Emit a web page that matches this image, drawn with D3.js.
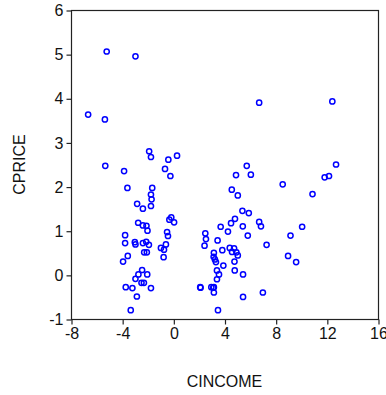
<!DOCTYPE html>
<html>
<head>
<meta charset="utf-8">
<script src="https://cdn.jsdelivr.net/npm/d3@7"></script>
<style>
  body { margin: 0; background: #fff; }
  text { font-family: Arial, "Liberation Sans", sans-serif; }
</style>
</head>
<body>
<div id="plot"></div>
<script>
const width = 386
const height = 395
const margin = {top: 10, right: 8, bottom: 76, left: 71}

// CINCOME values
const cincome = [
  -5.21, -2.96, -6.66, -5.35, -1.89, -1.75, -0.39, 0.29, -5.32, -3.85,
  -0.65, -0.23, -3.59, -1.65, -1.75, -1.70, -1.75, -2.83, -2.38, -2.75,
  -2.38, -2.10, -2.02, -0.31, -0.16, 0.06, -3.77, -3.77, -3.01, -2.96,
  -2.38, -2.12, -1.91, -2.28, -2.07, -0.49, -0.42, -0.58, -0.97, -0.73,
  -0.76, -3.56, -3.93, -2.44, -2.73, -2.04, -2.96, -2.49, -2.30, -3.72,
  -3.20, -1.75, -2.85, -3.33, 2.10, 2.50, 2.55, 2.44, 2.97, 3.17,
  3.17, 3.49, 6.71, 12.43, 12.72, 11.83, 12.17, 8.55, 10.88, 5.74,
  4.90, 6.06, 4.57, 5.04, 5.40, 5.90, 4.82, 4.51, 3.70, 5.43,
  6.71, 6.85, 10.07, 4.27, 3.46, 5.82, 9.16, 7.29, 3.83, 4.41,
  4.75, 4.59, 4.93, 5.04, 3.17, 3.15, 3.25, 3.33, 4.78, 3.91,
  8.97, 9.60, 3.41, 4.80, 3.57, 5.45, 3.41, 2.13, 3.12, 5.45,
  7.00
]

// CPRICE values
const cprice = [
  5.06, 4.95, 3.63, 3.52, 2.80, 2.67, 2.61, 2.70, 2.47, 2.35,
  2.40, 2.24, 1.97, 1.97, 1.82, 1.71, 1.56, 1.61, 1.50, 1.18,
  1.12, 1.11, 1.00, 1.25, 1.30, 1.19, 0.90, 0.72, 0.74, 0.69,
  0.72, 0.75, 0.68, 0.51, 0.51, 0.97, 0.88, 0.69, 0.61, 0.57,
  0.40, 0.43, 0.30, 0.11, 0.01, 0.01, -0.09, -0.18, -0.18, -0.28,
  -0.30, -0.30, -0.49, -0.80, -0.28, 0.94, 0.81, 0.66, -0.28, -0.28,
  -0.40, -0.80, 3.90, 3.93, 2.50, 2.21, 2.24, 2.05, 1.83, 2.47,
  2.26, 2.27, 1.93, 1.80, 1.45, 1.40, 1.27, 1.17, 1.09, 1.10,
  1.20, 1.10, 1.09, 0.98, 0.78, 0.89, 0.89, 0.68, 0.56, 0.61,
  0.60, 0.52, 0.51, 0.44, 0.50, 0.41, 0.35, 0.29, 0.30, 0.21,
  0.43, 0.29, 0.10, 0.10, 0.01, 0.01, -0.10, -0.29, -0.29, -0.50,
  -0.40
]

const xTicks = [-8, -4, 0, 4, 8, 12, 16]
const yTicks = [-1, 0, 1, 2, 3, 4, 5, 6]

const svg = d3.select('div#plot').append('svg')
    .attr('width', width)
    .attr('height', height)

const innerW = width - margin.left - margin.right
const innerH = height - margin.top - margin.bottom

const x = d3.scaleLinear().domain([-8, 16]).range([margin.left, margin.left + innerW])
const y = d3.scaleLinear().domain([-1, 6]).range([margin.top + innerH, margin.top])

// plain hyphen minus, no decimals
const fmt = d => String(d)

// frame
svg.append('rect')
    .attr('x', margin.left + 0.5)
    .attr('y', margin.top + 0.5)
    .attr('width', innerW)
    .attr('height', innerH)
    .attr('fill', 'none')
    .attr('stroke', '#222')
    .attr('stroke-width', 1.2)

// x axis
svg.append('g')
    .attr('transform', 'translate(0.5,' + (margin.top + innerH + 0.5) + ')')
    .call(d3.axisBottom(x).tickValues(xTicks).tickFormat(fmt).tickSize(5).tickPadding(3))
    .call(g => g.select('.domain').remove())
    .call(g => g.selectAll('.tick line').attr('stroke', '#222').attr('stroke-width', 1.2))
    .call(g => g.selectAll('.tick text').attr('font-size', 16).attr('fill', '#111')
        .attr('font-family', 'Arial, "Liberation Sans", sans-serif'))

// y axis
svg.append('g')
    .attr('transform', 'translate(' + (margin.left + 0.5) + ',0.5)')
    .call(d3.axisLeft(y).tickValues(yTicks).tickFormat(fmt).tickSize(5).tickPadding(3))
    .call(g => g.select('.domain').remove())
    .call(g => g.selectAll('.tick line').attr('stroke', '#222').attr('stroke-width', 1.2))
    .call(g => g.selectAll('.tick text').attr('font-size', 16).attr('fill', '#111')
        .attr('font-family', 'Arial, "Liberation Sans", sans-serif'))

// axis titles
svg.append('text')
    .text('CINCOME')
    .attr('x', margin.left + innerW / 2)
    .attr('y', 387)
    .attr('text-anchor', 'middle')
    .attr('font-size', 16)
    .attr('fill', '#111')

svg.append('text')
    .text('CPRICE')
    .attr('transform', 'translate(25,' + (margin.top + innerH / 2) + ') rotate(-90)')
    .attr('text-anchor', 'middle')
    .attr('font-size', 16)
    .attr('fill', '#111')

// points
svg.append('g')
    .selectAll('circle')
    .data(cincome.map((v, i) => [v, cprice[i]]))
    .enter()
    .append('circle')
    .attr('cx', d => x(d[0]))
    .attr('cy', d => y(d[1]))
    .attr('r', 2.6)
    .attr('fill', 'none')
    .attr('stroke', '#0000ff')
    .attr('stroke-width', 1.5)
</script>
</body>
</html>
